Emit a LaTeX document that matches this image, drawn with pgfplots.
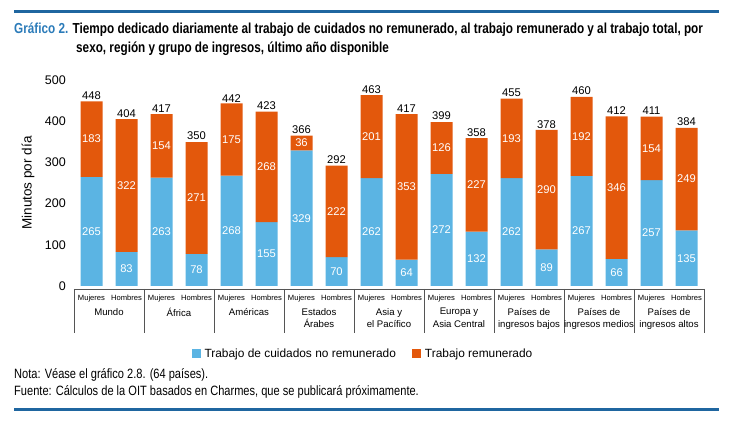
\documentclass[border=0pt]{standalone}
\usepackage{fontspec}
\setmainfont{Liberation Sans}
\newfontfamily\condfont{Liberation Sans}[FakeStretch=0.82]
\newfontfamily\titlefont{Liberation Sans}[FakeStretch=0.81]
\usepackage{pgfplots}
\usepackage{pgfplotstable}
\pgfplotsset{compat=1.18}

\definecolor{cblue}{HTML}{5BB4E3}
\definecolor{corange}{HTML}{E3580C}
\definecolor{rulecol}{HTML}{1F66A0}
\definecolor{titleblue}{HTML}{2B7BB9}
\definecolor{sepcol}{HTML}{555555}

% x: bar position; care: trabajo de cuidados no remunerado; paid: trabajo remunerado; total
\pgfplotstableread{
x care paid total
0 265 183 448
1 83 322 404
2 263 154 417
3 78 271 350
4 268 175 442
5 155 268 423
6 329 36 366
7 70 222 292
8 262 201 463
9 64 353 417
10 272 126 399
11 132 227 358
12 262 193 455
13 89 290 378
14 267 192 460
15 66 346 412
16 257 154 411
17 135 249 384
}\datatable

\begin{document}
\begin{tikzpicture}
\useasboundingbox (0pt,0pt) rectangle (732pt,427pt);
% top and bottom rules
\fill[rulecol] (14pt,413.5pt) rectangle (719pt,416.5pt);
\fill[rulecol] (14pt,15.5pt) rectangle (719pt,18.5pt);
% title
\node[anchor=base west, inner sep=0pt, font=\titlefont\bfseries\fontsize{14.5}{17}\selectfont] at (14pt,393pt)
  {\textcolor{titleblue}{Gráfico 2.} Tiempo dedicado diariamente al trabajo de cuidados no remunerado, al trabajo remunerado y al trabajo total, por};
\node[anchor=base west, inner sep=0pt, font=\titlefont\bfseries\fontsize{14.5}{17}\selectfont] at (76pt,374pt)
  {sexo, región y grupo de ingresos, último año disponible};
% notes
\node[anchor=base west, inner sep=0pt, font=\condfont\fontsize{13.5}{16}\selectfont] at (14pt,48pt)
  {Nota: Véase el gráfico 2.8. (64 países).};
\node[anchor=base west, inner sep=0pt, font=\condfont\fontsize{13.5}{16}\selectfont] at (14pt,31pt)
  {Fuente: Cálculos de la OIT basados en Charmes, que se publicará próximamente.};
% y label
\node[rotate=90, inner sep=0pt, font=\fontsize{13.5}{16}\selectfont] at (28pt,244pt) {Minutos por día};

\begin{axis}[
  at={(74pt,141pt)}, anchor=south west,
  width=630pt, height=206pt, scale only axis,
  xmin=-0.5, xmax=17.5, ymin=0, ymax=500,
  clip=false,
  axis line style={draw=none},
  major tick length=0pt,
  /pgf/number format/assume math mode=true,
  ytick={0,100,200,300,400,500},
  yticklabel style={font=\fontsize{12.5}{14}\selectfont, inner sep=0pt, xshift=-8pt},
  xtick={0,...,17},
  xticklabels={Mujeres,Hombres,Mujeres,Hombres,Mujeres,Hombres,Mujeres,Hombres,Mujeres,Hombres,Mujeres,Hombres,Mujeres,Hombres,Mujeres,Hombres,Mujeres,Hombres},
  xticklabel style={font=\fontsize{7.6}{9}\selectfont, anchor=base, inner sep=0pt, yshift=-14.5pt},
  legend style={at={(0.4587,-0.330)}, anchor=center, draw=none, fill=none,
    legend columns=2, font=\fontsize{11.9}{14}\selectfont,
    /tikz/every even column/.append style={column sep=14pt},
    /tikz/every odd column/.append style={column sep=2pt}},
  legend image code/.code={\fill[#1] (0pt,-4.5pt) rectangle (9pt,4.5pt);},
]
\addplot[ybar, stack plots=y, bar shift=0pt, bar width=22pt, fill=cblue, draw=none]
  table[x=x, y=care]{\datatable};
\addlegendentry{Trabajo de cuidados no remunerado}
\addplot[ybar, stack plots=y, bar shift=0pt, bar width=22pt, fill=corange, draw=none]
  table[x=x, y=paid]{\datatable};
\addlegendentry{Trabajo remunerado}

% value labels
\addplot[forget plot, stack plots=false, draw=none, mark=none, nodes near coords,
  nodes near coords align={center}, point meta=explicit,
  every node near coord/.append style={text=white, font=\fontsize{11.2}{13}\selectfont}]
  table[x=x, y expr=\thisrow{care}/2, meta=care]{\datatable};
\addplot[forget plot, stack plots=false, draw=none, mark=none, nodes near coords,
  nodes near coords align={center}, point meta=explicit,
  every node near coord/.append style={text=white, font=\fontsize{11.2}{13}\selectfont}]
  table[x=x, y expr=\thisrow{care}+\thisrow{paid}/2, meta=paid]{\datatable};
\addplot[forget plot, stack plots=false, draw=none, mark=none, nodes near coords,
  nodes near coords align={south}, point meta=explicit,
  every node near coord/.append style={text=black, inner sep=1.5pt, font=\fontsize{11.2}{13}\selectfont}]
  table[x=x, y=total, meta=total]{\datatable};

% category table lines
\draw[sepcol, line width=0.6pt] (axis cs:-0.5,0) ++(0pt,-3pt) -- ([yshift=-3pt]axis cs:17.5,0);
\pgfplotsinvokeforeach{0,...,9}{
  \draw[sepcol, line width=0.6pt] (axis cs:{2*#1-0.5},0) ++(0pt,-3pt) -- ++(0pt,-44pt);
}
\tikzset{grp/.style={anchor=north, yshift=-22pt, align=center, inner sep=0pt,
  font=\fontsize{9.6}{12.5}\selectfont}}
\node[grp] at (axis cs:0.5,0) {Mundo};
\node[grp] at (axis cs:2.5,0) {África};
\node[grp] at (axis cs:4.5,0) {Américas};
\node[grp] at (axis cs:6.5,0) {Estados\\Árabes};
\node[grp] at (axis cs:8.5,0) {Asia y\\el Pacífico};
\node[grp] at (axis cs:10.5,0) {Europa y\\Asia Central};
\node[grp] at (axis cs:12.5,0) {Países de\\ingresos bajos};
\node[grp] at (axis cs:14.5,0) {Países de\\ingresos medios};
\node[grp] at (axis cs:16.5,0) {Países de\\ingresos altos};
\end{axis}
\end{tikzpicture}
\end{document}
